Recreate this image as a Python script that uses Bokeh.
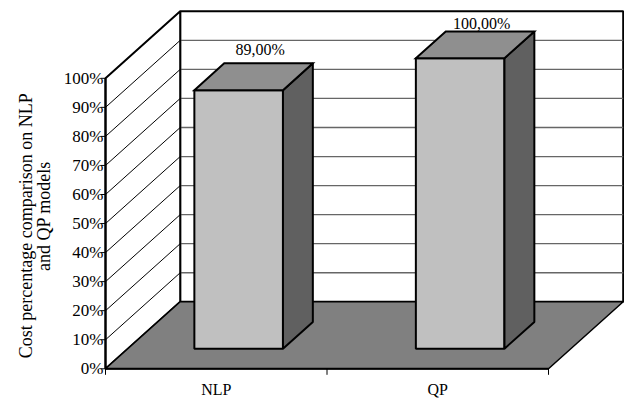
import math
from bokeh.plotting import figure
from bokeh.models import Range1d
from bokeh.core.properties import value
from bokeh.embed import file_html
from bokeh.resources import INLINE

# ---- data ----
categories = ["NLP", "QP"]
values = [89.0, 100.0]
value_labels = ["89,00%", "100,00%"]
y_ticks = [0, 10, 20, 30, 40, 50, 60, 70, 80, 90, 100]
y_tick_labels = ["0%", "10%", "20%", "30%", "40%", "50%", "60%", "70%", "80%", "90%", "100%"]
title_lines = ["Cost percentage comparison on  NLP", "and QP models"]

# ---- layout constants ----
W, H = 624, 398
PX_X = 221.5          # pixels per category
PX_Y = 2.905          # pixels per percent
ORIGIN_X = 105.0      # canvas x of the front-left corner
ORIGIN_Y = 368.3      # canvas y of the 0% level (from top)
DX = 74.7 / PX_X      # depth offset (category units)
DY = 67.0 / PX_Y      # depth offset (percent units)
BAR_LO, BAR_HI = 0.3, 0.7
D_FRONT, D_BACK = 0.3, 0.7
N = len(categories)
YMAX = 100.0
FONT = value("Liberation Serif")

p = figure(width=W, height=H,
           x_range=Range1d(-ORIGIN_X / PX_X, (W - ORIGIN_X) / PX_X),
           y_range=Range1d(-(H - ORIGIN_Y) / PX_Y, ORIGIN_Y / PX_Y),
           x_axis_type=None, y_axis_type=None, min_border=0,
           toolbar_location=None, output_backend="svg",
           outline_line_color=None, background_fill_color="white",
           border_fill_color="white")

# back wall
p.quad(left=DX, right=N + DX, bottom=DY, top=YMAX + DY,
       fill_color="white", line_color="black", line_width=2)
inner = y_ticks[1:-1]
p.multi_line(xs=[[DX, N + DX] for _ in inner],
             ys=[[v + DY, v + DY] for v in inner],
             line_color="#666666", line_width=1.3)

# left wall
p.patch(x=[0, 0, DX, DX], y=[0, YMAX, YMAX + DY, DY],
        fill_color="white", line_color="black", line_width=2)
p.multi_line(xs=[[0, DX] for _ in inner],
             ys=[[v, v + DY] for v in inner],
             line_color="black", line_width=1)

# floor
p.patch(x=[0, N, N + DX, DX], y=[0, 0, DY, DY],
        fill_color="#808080", line_color="black", line_width=1.5)
p.line(x=[0, N], y=[0, 0], line_color="black", line_width=2)

# category boundary ticks
p.segment(x0=list(range(N + 1)), y0=[0] * (N + 1),
          x1=list(range(N + 1)), y1=[-6 / PX_Y] * (N + 1),
          line_color="black", line_width=1)

# left axis line and ticks
p.line(x=[0, 0], y=[0, YMAX], line_color="black", line_width=2)
p.segment(x0=[0] * len(y_ticks), y0=y_ticks,
          x1=[-5 / PX_X] * len(y_ticks), y1=y_ticks,
          line_color="black", line_width=1)
p.text(x=[0] * len(y_ticks), y=y_ticks, text=y_tick_labels,
       x_offset=-2, text_align="right", text_baseline="middle",
       text_font=FONT, text_font_size="17px", text_color="black")

# bars
fx, fy = D_FRONT * DX, D_FRONT * DY
bx, by = D_BACK * DX, D_BACK * DY
front_x, front_y, side_x, side_y, top_x, top_y = [], [], [], [], [], []
for i, v in enumerate(values):
    x0, x1 = i + BAR_LO, i + BAR_HI
    front_x.append([x0 + fx, x1 + fx, x1 + fx, x0 + fx])
    front_y.append([fy, fy, v + fy, v + fy])
    side_x.append([x1 + fx, x1 + bx, x1 + bx, x1 + fx])
    side_y.append([fy, by, v + by, v + fy])
    top_x.append([x0 + fx, x1 + fx, x1 + bx, x0 + bx])
    top_y.append([v + fy, v + fy, v + by, v + by])
p.patches(xs=front_x, ys=front_y, fill_color="#C0C0C0", line_color="black", line_width=2)
p.patches(xs=side_x, ys=side_y, fill_color="#606060", line_color="black", line_width=2)
p.patches(xs=top_x, ys=top_y, fill_color="#8F8F8F", line_color="black", line_width=2,
          line_join="miter")

# value labels
lab_x = [i + 0.5 + 0.5 * DX + 0.03 for i in range(N)]
lab_y = [min(v + 0.5 * DY + 9.3, YMAX + DY - 4.2) for v in values]
p.text(x=lab_x, y=lab_y, text=value_labels, text_align="center",
       text_baseline="middle", text_font=FONT, text_font_size="16px",
       text_color="black")

# category labels
p.text(x=[i + 0.5 for i in range(N)], y=[0] * N, text=categories,
       y_offset=21, text_align="center", text_baseline="middle",
       text_font=FONT, text_font_size="16px", text_color="black")

# axis title (two lines, rotated)
p.text(x=[0, 0], y=[50, 50], text=title_lines, angle=math.pi / 2,
       x_offset=[-80, -62], y_offset=[0, -7.5],
       text_align="center", text_baseline="middle",
       text_font=FONT, text_font_size="18px", text_color="black")

open("out.html", "w").write(file_html(p, INLINE))
